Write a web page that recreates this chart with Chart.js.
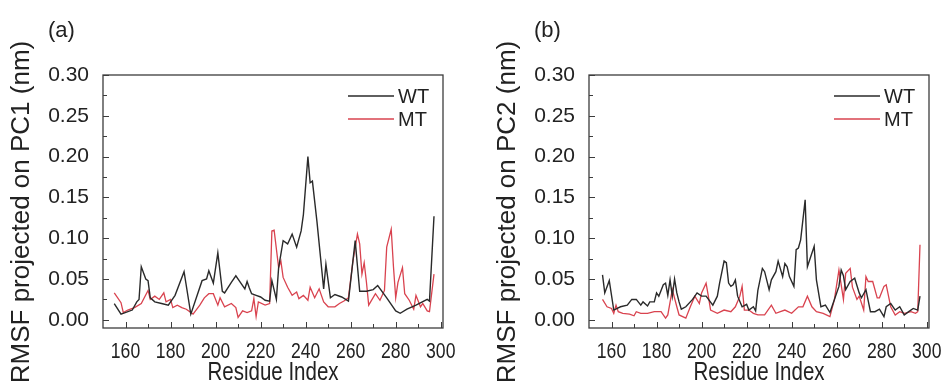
<!DOCTYPE html>
<html>
<head>
<meta charset="utf-8">
<script src="https://cdn.jsdelivr.net/npm/chart.js@4.4.1/dist/chart.umd.min.js"></script>
<style>
html, body { margin: 0; padding: 0; background: #fff; overflow: hidden; }
#wrap { position: relative; width: 941px; height: 387px; overflow: hidden; }
.pane { position: absolute; top: 0; width: 470px; height: 387px; }
</style>
</head>
<body>
<div id="wrap">
  <div class="pane" style="left:0"><canvas id="chartA" width="470" height="387"></canvas></div>
  <div class="pane" style="left:486px"><canvas id="chartB" width="470" height="387"></canvas></div>
</div>
<script>
// tick labels
const xTicks = [160, 180, 200, 220, 240, 260, 280, 300];
const yTicks = [0, 0.05, 0.10, 0.15, 0.20, 0.25, 0.30];
const seriesNames = ['WT', 'MT'];

// (a) projection on PC1
const resA_WT = [155,158,163,165,166,167,169,170,171,173,176,179,182,186,189,194,196,197,199,201,203,204,207,209,211,213,214,215,216,218,220,222,224,225,227,228,230,232,234,236,238,239,241,242,243,245,248,249,251,253,256,259,262,264,267,270,272,276,280,282,285,289,294,295,297];
const rmsfA_WT = [0.020,0.007,0.012,0.022,0.025,0.065,0.050,0.048,0.027,0.022,0.020,0.018,0.030,0.059,0.007,0.048,0.050,0.060,0.045,0.082,0.035,0.033,0.046,0.054,0.046,0.038,0.047,0.039,0.032,0.030,0.028,0.024,0.023,0.048,0.025,0.064,0.097,0.093,0.105,0.089,0.109,0.129,0.200,0.168,0.170,0.121,0.038,0.068,0.027,0.031,0.028,0.023,0.097,0.035,0.035,0.037,0.042,0.027,0.011,0.008,0.013,0.018,0.025,0.023,0.127];
const resA_MT = [155,158,159,161,164,167,170,171,173,175,177,178,180,181,183,185,187,190,193,195,197,199,201,202,204,207,209,210,212,214,216,217,218,219,222,224,225,226,228,229,230,232,234,236,237,239,241,242,244,246,248,250,253,255,257,259,261,263,264,265,266,267,268,271,273,275,276,278,279,280,281,283,284,286,288,289,291,292,294,295,297];
const rmsfA_MT = [0.033,0.021,0.009,0.012,0.015,0.020,0.036,0.025,0.029,0.025,0.033,0.022,0.025,0.015,0.018,0.015,0.013,0.007,0.018,0.027,0.032,0.032,0.018,0.027,0.016,0.020,0.015,0.003,0.011,0.009,0.011,0.026,0.004,0.022,0.018,0.020,0.109,0.110,0.064,0.072,0.052,0.040,0.030,0.034,0.026,0.030,0.024,0.040,0.027,0.038,0.022,0.016,0.016,0.020,0.023,0.027,0.072,0.105,0.093,0.056,0.070,0.046,0.018,0.032,0.024,0.036,0.089,0.111,0.065,0.027,0.046,0.064,0.032,0.024,0.013,0.030,0.016,0.020,0.011,0.010,0.056];

// (b) projection on PC2
const resB_WT = [156,157,159,161,164,167,169,171,173,174,176,177,179,180,181,183,184,185,186,187,188,189,190,191,193,196,198,200,202,205,207,208,210,211,212,213,214,215,216,218,220,221,223,224,225,227,228,230,231,233,234,236,237,238,239,241,242,243,244,246,247,250,251,253,255,257,259,261,262,263,264,266,268,270,271,273,275,277,279,281,282,284,286,288,290,292,294,296,297];
const rmsfB_WT = [0.055,0.033,0.048,0.012,0.016,0.018,0.025,0.025,0.018,0.022,0.017,0.022,0.022,0.033,0.029,0.043,0.045,0.030,0.049,0.029,0.050,0.033,0.022,0.013,0.016,0.025,0.033,0.029,0.029,0.018,0.029,0.045,0.072,0.070,0.045,0.041,0.043,0.049,0.029,0.016,0.019,0.012,0.016,0.011,0.036,0.063,0.059,0.037,0.049,0.059,0.072,0.053,0.069,0.065,0.053,0.041,0.086,0.088,0.098,0.147,0.065,0.090,0.049,0.016,0.018,0.009,0.025,0.041,0.061,0.054,0.037,0.047,0.051,0.033,0.027,0.037,0.010,0.010,0.013,0.004,0.016,0.020,0.012,0.016,0.006,0.010,0.014,0.012,0.029];
const resB_MT = [156,158,160,161,162,163,165,168,170,171,173,176,179,182,184,185,187,189,190,193,195,197,199,200,202,203,204,207,210,213,215,217,218,219,221,223,225,228,231,233,235,237,240,243,245,247,249,251,254,257,259,261,263,264,266,267,269,270,272,273,274,276,278,279,281,282,284,286,288,290,293,295,296,297];
const rmsfB_MT = [0.025,0.016,0.014,0.008,0.018,0.010,0.008,0.007,0.005,0.010,0.008,0.008,0.010,0.010,0.002,0.006,0.037,0.016,0.006,0.002,0.016,0.029,0.020,0.033,0.045,0.029,0.012,0.008,0.012,0.010,0.016,0.029,0.041,0.012,0.012,0.008,0.006,0.006,0.018,0.008,0.010,0.012,0.008,0.016,0.016,0.029,0.016,0.010,0.008,0.004,0.025,0.061,0.025,0.057,0.063,0.040,0.025,0.029,0.012,0.053,0.047,0.047,0.027,0.027,0.041,0.043,0.016,0.006,0.010,0.008,0.010,0.008,0.010,0.092];

const colors = ['#2a2a2a', '#d9434f'];
const SANS = '"Liberation Sans", Arial, sans-serif';

const toPoints = (res, vals) => res.map((r, i) => ({ x: r, y: vals[i] }));

// text squeezed sideways, the figure uses a condensed face on the x axis
function narrowText(ctx, text, px, py, size, squeeze) {
    ctx.save();
    ctx.translate(px, py);
    ctx.scale(squeeze, 1);
    ctx.font = size + 'px ' + SANS;
    ctx.textAlign = 'center';
    ctx.textBaseline = 'middle';
    ctx.fillText(text, 0, 0);
    ctx.restore();
}

// frame, inner ticks, x labels, legend, panel label and y title
const decor = {
    id: 'decor',
    afterDraw(chart, args, opts) {
        const { ctx, chartArea: a, scales: { x, y } } = chart;
        ctx.save();
        ctx.strokeStyle = '#3c3c3c';
        ctx.lineWidth = 1.3;
        ctx.strokeRect(a.left, a.top, a.right - a.left, a.bottom - a.top);

        ctx.lineWidth = 1;
        ctx.beginPath();
        for (let v = 160; v <= 300; v += 10) {
            const px = Math.round(x.getPixelForValue(v)) + 0.5;
            const len = xTicks.includes(v) ? 6 : 4;
            ctx.moveTo(px, a.bottom);
            ctx.lineTo(px, a.bottom - len);
        }
        for (let k = 0; k <= 12; k++) {
            const py = Math.round(y.getPixelForValue(k * 0.025)) + 0.5;
            const len = k % 2 === 0 ? 6 : 4;
            ctx.moveTo(a.left, py);
            ctx.lineTo(a.left + len, py);
        }
        ctx.stroke();

        // x tick labels and title
        ctx.fillStyle = '#222';
        xTicks.forEach(v => narrowText(ctx, String(v), x.getPixelForValue(v), a.bottom + 24, 22, 0.8));
        narrowText(ctx, 'Residue Index', (a.left + a.right) / 2, 373, 25, 0.82);

        // legend
        ctx.font = '20px ' + SANS;
        ctx.textBaseline = 'middle';
        ctx.textAlign = 'left';
        chart.data.datasets.forEach((ds, i) => {
            const ly = a.top + 21 + i * 23;
            ctx.strokeStyle = ds.borderColor;
            ctx.lineWidth = 1.3;
            ctx.beginPath();
            ctx.moveTo(a.right - 95, ly);
            ctx.lineTo(a.right - 49, ly);
            ctx.stroke();
            ctx.fillStyle = '#222';
            ctx.fillText(ds.label, a.right - 45, ly + 1);
        });

        // panel label
        ctx.font = '22px ' + SANS;
        ctx.fillText(opts.panel, 48, 31);

        // y title
        ctx.translate(22, 212);
        ctx.rotate(-Math.PI / 2);
        ctx.textAlign = 'center';
        ctx.font = '26px ' + SANS;
        ctx.fillText(opts.yTitle, 0, 0);
        ctx.restore();
    }
};

function makeChart(id, panel, yTitle, wtRes, wtVals, mtRes, mtVals) {
    return new Chart(document.getElementById(id), {
        type: 'line',
        data: {
            datasets: [
                { label: seriesNames[0], data: toPoints(wtRes, wtVals), borderColor: colors[0], borderWidth: 1.4, pointRadius: 0, tension: 0 },
                { label: seriesNames[1], data: toPoints(mtRes, mtVals), borderColor: colors[1], borderWidth: 1.3, pointRadius: 0, tension: 0 }
            ]
        },
        plugins: [decor],
        options: {
            responsive: false,
            devicePixelRatio: 1,
            animation: false,
            layout: { padding: { left: 0, right: 27, top: 75, bottom: 0 } },
            scales: {
                x: {
                    type: 'linear',
                    min: 150,
                    max: 301,
                    afterBuildTicks: s => { s.ticks = xTicks.map(v => ({ value: v })); },
                    afterFit: s => { s.height = 59; },
                    grid: { display: false },
                    border: { display: false },
                    ticks: { display: false }
                },
                y: {
                    min: -0.01,
                    max: 0.30,
                    afterBuildTicks: s => { s.ticks = yTicks.map(v => ({ value: v })); },
                    afterFit: s => { s.width = 103; },
                    grid: { display: false },
                    border: { display: false },
                    ticks: { padding: 6, color: '#222', font: { family: SANS, size: 21 }, callback: v => v.toFixed(2) }
                }
            },
            plugins: {
                legend: { display: false },
                tooltip: { enabled: false },
                decor: { panel: panel, yTitle: yTitle }
            }
        }
    });
}

makeChart('chartA', '(a)', 'RMSF projected on PC1 (nm)', resA_WT, rmsfA_WT, resA_MT, rmsfA_MT);
makeChart('chartB', '(b)', 'RMSF projected on PC2 (nm)', resB_WT, rmsfB_WT, resB_MT, rmsfB_MT);
</script>
</body>
</html>
